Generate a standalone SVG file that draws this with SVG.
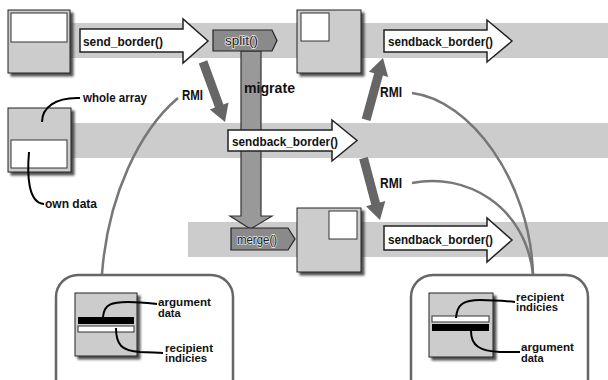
<svg xmlns="http://www.w3.org/2000/svg" width="608" height="380" viewBox="0 0 608 380">
<defs>
<filter id="sh" x="-20%" y="-20%" width="150%" height="150%">
<feDropShadow dx="3" dy="3" stdDeviation="1.2" flood-color="#333" flood-opacity="0.85"/>
</filter>
<polygon id="rmiArrow" points="0,0 -17,-10 -17,-4.5 -64,-4.5 -64,4.5 -17,4.5 -17,10"/>
</defs>
<style>
.band{fill:#cccccc}
.node{fill:#cccccc;stroke:#222;stroke-width:1}
.inner{fill:#fff;stroke:#333;stroke-width:1}
.blk{fill:#000}
.arrow{fill:#fff;stroke:#222;stroke-width:1.5;stroke-linejoin:miter}
.lbl{font-family:"Liberation Sans",Arial,sans-serif;font-weight:bold;fill:#111}
.pent{fill:#8a8a8a;stroke:#222;stroke-width:1.2}
.ptxt{font-family:"Liberation Sans",Arial,sans-serif;font-size:12.5px;fill:#1a1a1a;stroke:#e6e6e6;stroke-width:1.4;paint-order:stroke}
.rmi{fill:#666}
.gcurve{fill:none;stroke:#777;stroke-width:2.5}
.kcurve{fill:none;stroke:#000;stroke-width:2}
.rbox{fill:#fff;stroke:#666;stroke-width:2.5}
</style>
<rect width="608" height="380" fill="#fff"/>
<g id="bands">
<rect class="band" x="70" y="23" width="538" height="35"/>
<rect class="band" x="70" y="123" width="538" height="35"/>
<rect class="band" x="188" y="222" width="420" height="35"/>
</g>
<g id="connectors">
<polygon id="migrate" points="241,51 261,51 261,216 272,216 250.5,229 230,216 241,216" fill="#999" stroke="#333" stroke-width="1.2"/>
<text class="lbl" x="244" y="93" font-size="15" textLength="51" lengthAdjust="spacingAndGlyphs" fill="#1a1a1a">migrate</text>
<path class="gcurve" d="M178,98 C140,130 108,195 102,274"/>
<path class="gcurve" d="M412,93 C470,100 530,180 533,274"/>
<path class="gcurve" d="M412,183 C465,172 525,205 533,274"/>
<use href="#rmiArrow" class="rmi" transform="translate(225,122) rotate(69.9)"/>
<use href="#rmiArrow" class="rmi" transform="translate(383,58) rotate(-74.7)"/>
<use href="#rmiArrow" class="rmi" transform="translate(380,220) rotate(75.1)"/>
<text class="lbl" x="182" y="100" font-size="15" textLength="21" lengthAdjust="spacingAndGlyphs">RMI</text>
<text class="lbl" x="380" y="97" font-size="15" textLength="22" lengthAdjust="spacingAndGlyphs">RMI</text>
<text class="lbl" x="380" y="188" font-size="15" textLength="22" lengthAdjust="spacingAndGlyphs">RMI</text>
</g>
<g id="node-tl">
<rect class="node" x="8" y="10" width="62" height="63" filter="url(#sh)"/>
<rect class="inner" x="11" y="13" width="56" height="29"/>
</g>
<g id="node-ml">
<rect class="node" x="8" y="108" width="63" height="64" filter="url(#sh)"/>
<rect class="inner" x="11" y="140" width="56" height="28"/>
<path class="kcurve" d="M42,122 C42,108 55,97 80,98"/>
<path class="kcurve" d="M29,152 C27,175 28,203 44,204"/>
<text class="lbl" x="83" y="102" font-size="12" textLength="64" lengthAdjust="spacingAndGlyphs">whole array</text>
<text class="lbl" x="45" y="208" font-size="12" textLength="52" lengthAdjust="spacingAndGlyphs">own data</text>
</g>
<g id="send-border">
<polygon class="arrow" points="80,29 183,29 183,19 208,41 183,63 183,52 80,52"/>
<text class="lbl" x="83" y="45.5" font-size="13" textLength="80" lengthAdjust="spacingAndGlyphs">send_border()</text>
</g>
<g id="split">
<polygon class="pent" points="213,30 272,30 277,40.5 272,51 213,51"/>
<text class="ptxt" x="225" y="45" textLength="33" lengthAdjust="spacingAndGlyphs">split()</text>
</g>
<g id="node-tr">
<rect class="node" x="297" y="10" width="64" height="63" filter="url(#sh)"/>
<rect class="inner" x="301" y="13" width="28" height="28"/>
</g>
<g id="sendback-top">
<polygon class="arrow" points="384,30 487,30 487,20 512,41 487,62 487,52 384,52"/>
<text class="lbl" x="388" y="45.5" font-size="13" textLength="105" lengthAdjust="spacingAndGlyphs">sendback_border()</text>
</g>
<g id="sendback-mid">
<polygon class="arrow" points="228,130 332,130 332,120 357,140.5 332,161 332,151 228,151"/>
<text class="lbl" x="232" y="145.5" font-size="13" textLength="106" lengthAdjust="spacingAndGlyphs">sendback_border()</text>
</g>
<g id="merge">
<polygon class="pent" points="231,228 288,228 295,239 288,250 231,250"/>
<text class="ptxt" x="237" y="243.5" textLength="40" lengthAdjust="spacingAndGlyphs">merge()</text>
</g>
<g id="node-bm">
<rect class="node" x="297" y="208" width="64" height="64" filter="url(#sh)"/>
<rect class="inner" x="329" y="211" width="28" height="28"/>
</g>
<g id="sendback-bot">
<polygon class="arrow" points="384,226 487,226 487,218 512,240 487,262 487,250 384,250"/>
<text class="lbl" x="388" y="243.5" font-size="13" textLength="105" lengthAdjust="spacingAndGlyphs">sendback_border()</text>
</g>
<g id="box-bl">
<rect class="rbox" x="56" y="275" width="177" height="130" rx="22" ry="22"/>
<rect class="node" x="75" y="293" width="62" height="63" filter="url(#sh)"/>
<rect class="blk" x="78" y="317" width="56" height="7"/>
<rect class="inner" x="78" y="326" width="56" height="6"/>
<path class="kcurve" d="M103,317 C104,304 112,302 128,302 C140,302 148,303 157,304"/>
<path class="kcurve" d="M116,328 C116,345 122,351 140,352 C150,352 156,353 163,353"/>
<text class="lbl" x="158" y="306" font-size="11" textLength="53" lengthAdjust="spacingAndGlyphs">argument</text>
<text class="lbl" x="158" y="316.5" font-size="11">data</text>
<text class="lbl" x="165" y="351.5" font-size="11" textLength="48" lengthAdjust="spacingAndGlyphs">recipient</text>
<text class="lbl" x="165" y="362" font-size="11" textLength="42" lengthAdjust="spacingAndGlyphs">indicies</text>
</g>
<g id="box-br">
<rect class="rbox" x="411" y="275" width="177" height="130" rx="22" ry="22"/>
<rect class="node" x="429" y="293" width="64" height="64" filter="url(#sh)"/>
<rect class="inner" x="432" y="316" width="57" height="6"/>
<rect class="blk" x="432" y="324" width="57" height="7"/>
<path class="kcurve" d="M456,318 C457,304 464,300 480,300 C495,300 505,301 515,302"/>
<path class="kcurve" d="M471,331 C471,346 480,351 500,352 C510,352 515,352 520,352"/>
<text class="lbl" x="516" y="300.5" font-size="11" textLength="48" lengthAdjust="spacingAndGlyphs">recipient</text>
<text class="lbl" x="516" y="311" font-size="11" textLength="42" lengthAdjust="spacingAndGlyphs">indicies</text>
<text class="lbl" x="521" y="351" font-size="11" textLength="53" lengthAdjust="spacingAndGlyphs">argument</text>
<text class="lbl" x="521" y="361.5" font-size="11">data</text>
</g>
</svg>
